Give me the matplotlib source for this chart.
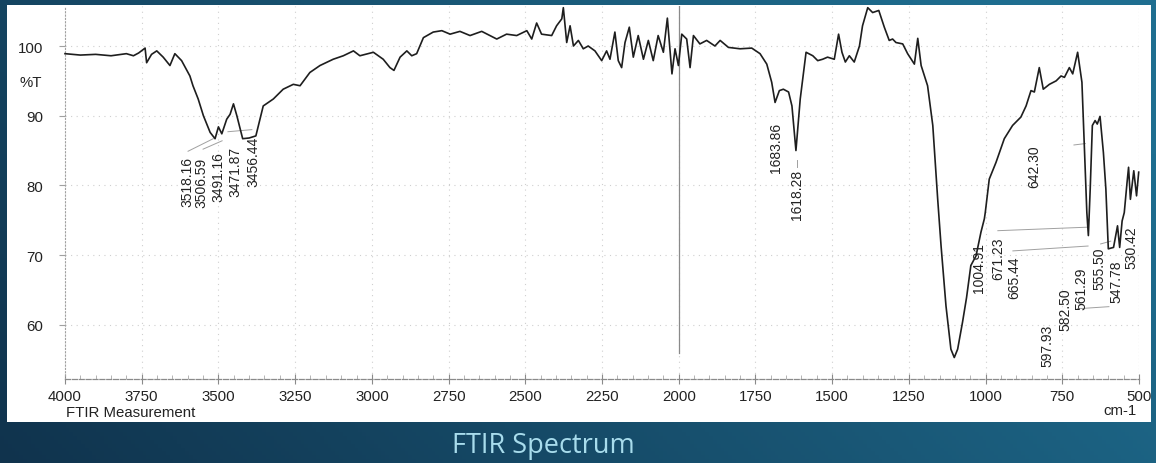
import numpy as np
import matplotlib
matplotlib.use("Agg")
import matplotlib.pyplot as plt
from matplotlib.patches import Rectangle

# ---------------- data ----------------
wavenumber = [
    4000, 3950, 3900, 3850, 3800, 3777, 3760, 3739, 3734, 3718, 3701, 3680, 3658, 3642,
    3620, 3593, 3583, 3566, 3549, 3527, 3511, 3500, 3489, 3473, 3462, 3451, 3440, 3421,
    3400, 3378, 3354, 3321, 3289, 3256, 3234, 3202, 3169, 3126, 3093, 3060, 3039, 2995,
    2963, 2941, 2928, 2908, 2886, 2870, 2854, 2832, 2800, 2772, 2745, 2713, 2680, 2642,
    2593, 2561, 2528, 2495, 2479, 2463, 2447, 2414, 2398, 2381, 2376, 2365, 2354, 2343,
    2327, 2311, 2295, 2273, 2251, 2235, 2224, 2208, 2197, 2186, 2175, 2161, 2148, 2132,
    2115, 2099, 2083, 2067, 2050, 2037, 2026, 2022, 2012, 2001, 1990, 1974, 1963, 1952,
    1931, 1909, 1882, 1865, 1838, 1800, 1762, 1735, 1713, 1697, 1686, 1672, 1659, 1642,
    1631, 1618, 1604, 1585, 1563, 1547, 1531, 1515, 1493, 1479, 1468, 1457, 1444, 1428,
    1411, 1401, 1384, 1368, 1348, 1330, 1314, 1303, 1292, 1270, 1254, 1232, 1221, 1210,
    1189, 1172, 1156, 1145, 1129, 1113, 1102, 1091, 1075, 1062, 1048, 1031, 1015, 1004,
    1001, 988, 966, 939, 912, 885, 868, 852, 841, 825, 812, 792, 770, 754, 743, 727,
    716, 700, 686, 675, 670, 665, 659, 652, 643, 636, 627, 616, 608, 600, 583, 570,
    563, 555, 548, 539, 534, 528, 517, 508, 501,
]
transmittance = [
    98.9, 98.7, 98.8, 98.6, 98.9, 98.6, 99.0, 99.7, 97.6, 98.8, 99.3, 98.4, 97.2, 98.9,
    97.9, 95.7, 94.3, 92.4, 90.0, 87.6, 86.7, 88.4, 87.4, 89.5, 90.2, 91.7, 90.0, 86.7,
    86.8, 87.1, 91.4, 92.4, 93.8, 94.5, 94.3, 96.2, 97.2, 98.1, 98.6, 99.3, 98.6, 99.1,
    98.1, 96.9, 96.5, 98.4, 99.3, 98.6, 98.9, 101.2, 102.0, 102.2, 101.7, 102.1, 101.5, 102.1,
    101.0, 101.7, 101.5, 102.2, 101.0, 103.3, 101.7, 101.5, 102.9, 103.9, 105.5, 100.5, 102.9, 100.0,
    100.8, 99.6, 100.0, 99.3, 97.9, 99.3, 98.1, 102.0, 97.9, 96.9, 100.5, 102.7, 98.4, 101.5,
    98.1, 100.8, 97.9, 101.5, 99.1, 104.0, 98.1, 96.0, 99.6, 97.2, 101.7, 101.0, 96.9, 101.5,
    100.3, 100.8, 100.0, 100.8, 99.8, 99.6, 99.7, 98.9, 97.4, 94.8, 91.9, 93.6, 93.8, 93.4,
    91.4, 85.0, 92.4, 99.1, 98.6, 97.9, 98.1, 98.4, 98.1, 101.7, 99.1, 97.7, 98.6, 97.7,
    100.0, 102.9, 105.5, 104.8, 105.1, 102.7, 100.8, 101.0, 100.5, 100.3, 98.9, 97.4, 101.1, 97.2,
    94.3, 88.6, 78.0, 71.3, 62.7, 56.5, 55.3, 56.5, 60.4, 63.9, 68.5, 69.9, 73.3, 75.2,
    76.1, 80.9, 83.3, 86.7, 88.6, 89.8, 91.4, 93.6, 93.4, 96.9, 93.8, 94.5, 95.0, 95.7, 95.5, 96.9,
    96.0, 99.1, 94.8, 81.9, 76.1, 72.8, 79.5, 88.6, 89.3, 88.8, 89.9, 84.7, 79.5, 70.9, 71.1, 74.2,
    71.1, 74.9, 76.1, 80.4, 82.6, 78.0, 82.1, 78.5, 81.9,
]

peak_labels = ["3518.16", "3506.59", "3491.16", "3471.87", "3456.44", "1683.86", "1618.28",
               "642.30", "1004.91", "671.23", "665.44", "597.93", "582.50", "561.29",
               "555.50", "547.78", "530.42"]
# label anchor (x in cm-1 on the chart, top of text in %T)
label_x = [3602, 3554, 3501, 3446, 3387, 1683, 1615, 842, 1021, 960, 907, 797, 741, 689, 630, 575, 526]
label_top = [84.2, 84.1, 84.9, 85.7, 87.1, 89.1, 82.4, 85.9, 71.9, 72.6, 69.9, 60.1, 65.4, 68.4, 71.3, 69.4, 74.2]

# faint leader lines (pairs of points)
leaders = [
    ((3599, 84.9), (3517, 86.7)),
    ((3550, 85.2), (3488, 86.4)),
    ((3469, 87.7), (3391, 88.0)),
    ((960, 73.5), (670, 74.0)),
    ((911, 70.6), (666, 71.3)),
    ((625, 71.6), (592, 72.0)),
    ((700, 62.3), (598, 62.6)),
    ((1615, 82.6), (1615, 83.6)),
    ((712, 85.8), (675, 86.0)),
]

xticks = [4000, 3750, 3500, 3250, 3000, 2750, 2500, 2250, 2000, 1750, 1500, 1250, 1000, 750, 500]
yticks = [60, 70, 80, 90, 100]

# ---------------- figure ----------------
W, H = 1156, 464
fig = plt.figure(figsize=(W / 100, H / 100), dpi=100)

# slide background gradient
bg = fig.add_axes([0, 0, 1, 1])
bg.set_axis_off()
gx = np.linspace(0, 1, 300)
gy = np.linspace(0, 1, 120)
GX, GY = np.meshgrid(gx, gy)
t = np.clip(0.8 * GX + 0.3 * (1 - GY), 0, 1)
c0 = np.array([0x10, 0x33, 0x4d]) / 255
c1 = np.array([0x1f, 0x6e, 0x90]) / 255
img = c0[None, None, :] * (1 - t[..., None]) + c1[None, None, :] * t[..., None]
bg.imshow(img, extent=[0, 1, 0, 1], aspect="auto", origin="upper")
bg.set_xlim(0, 1)
bg.set_ylim(0, 1)
bg.add_patch(Rectangle((7 / W, 1 - 423 / H), (1151 - 7) / W, (423 - 6) / H,
                       facecolor="white", edgecolor="none"))
bg.text(543 / W, 1 - 446 / H, "FTIR Spectrum", color="#a8dcec", fontsize=19.5,
        family="Open Sans", ha="center", va="center")

ax = fig.add_axes([65 / W, 1 - 380 / H, (1139 - 65) / W, (380 - 7) / H])
ax.set_facecolor("none")
ax.set_xlim(4000, 500)
ax.set_ylim(52.22, 105.74)

# grid (faint, sparse dots as in the scan)
for xv in xticks[1:-1]:
    ax.axvline(xv, color="#cfcfcf", lw=0.8, ls=(0, (1, 4)), zorder=0)
for yv in yticks:
    ax.axhline(yv, color="#cfcfcf", lw=0.8, ls=(0, (1, 4)), zorder=0)

# instrument artefact at 2000
ax.plot([2000, 2000], [56.0, 105.7], color="#8a8a8a", lw=0.9, zorder=1)

ax.plot(wavenumber, transmittance, color="#1e1e1e", lw=1.2, zorder=3, clip_on=False)

for (p0, p1) in leaders:
    ax.plot([p0[0], p1[0]], [p0[1], p1[1]], color="#a0a0a0", lw=0.7, zorder=2)

for lab, lx, ly in zip(peak_labels, label_x, label_top):
    ax.text(lx, ly, lab, rotation=90, ha="center", va="top", fontsize=10,
            family="Liberation Sans", color="#222222", zorder=4)

for s in ["top", "right"]:
    ax.spines[s].set_visible(False)
ax.spines["left"].set_color("#a0a0a0")
ax.spines["left"].set_linestyle((0, (1, 2)))
ax.spines["left"].set_linewidth(0.8)
ax.spines["bottom"].set_color("#8a8a8a")
ax.spines["bottom"].set_linestyle((0, (4, 1.5)))
ax.spines["bottom"].set_linewidth(0.9)
ax.axvline(500, color="#a8a8a8", lw=0.8, ls=(0, (1, 2)))

ax.set_xticks(xticks)
ax.set_xticklabels([str(v) for v in xticks])
ax.set_xticks(np.arange(500, 4001, 50), minor=True)
ax.set_yticks(yticks)
ax.set_yticklabels([str(v) for v in yticks])
ax.tick_params(axis="x", which="major", direction="inout", length=7, width=0.8,
               color="#8a8a8a", pad=4, labelsize=10.8, labelcolor="#222222")
ax.tick_params(axis="x", which="minor", direction="in", length=3, width=0.6,
               color="#a8a8a8")
ax.tick_params(axis="y", which="major", direction="out", length=4, width=0.8,
               color="#a0a0a0", pad=12, labelsize=10.8, labelcolor="#222222")
for lbl in ax.get_xticklabels() + ax.get_yticklabels():
    lbl.set_family("Liberation Sans")

fig.text(20 / W, 1 - 83 / H, "%T", fontsize=10.8, family="Liberation Sans",
         color="#222222", ha="left", va="center")
fig.text(1137 / W, 1 - 411 / H, "cm-1", fontsize=10.8, family="Liberation Sans",
         color="#222222", ha="right", va="center")
fig.text(66 / W, 1 - 413 / H, "FTIR Measurement", fontsize=10.8, family="Liberation Sans",
         color="#222222", ha="left", va="center")

fig.savefig("out.png", dpi=100)
